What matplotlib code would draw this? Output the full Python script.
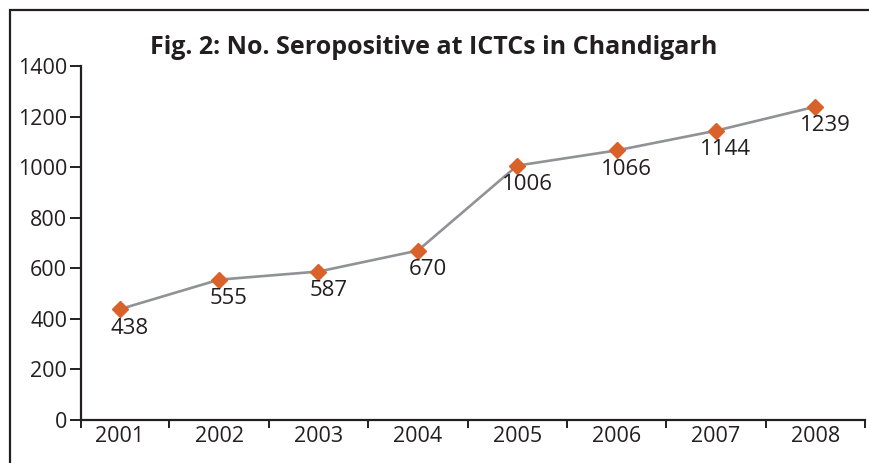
import matplotlib.pyplot as plt
from matplotlib.patches import Rectangle

years = ['2001', '2002', '2003', '2004', '2005', '2006', '2007', '2008']
seropositive = [438, 555, 587, 670, 1006, 1066, 1144, 1239]
y_ticks = [0, 200, 400, 600, 800, 1000, 1200, 1400]

plt.rcParams['font.family'] = ['Open Sans', 'DejaVu Sans']
ink = '#231f20'

fig = plt.figure(figsize=(8.69, 4.63), dpi=100)
ax = fig.add_axes([0.0932, 0.0929, 0.9022, 0.7646])

# frame around the whole chart (right/bottom edges fall outside the image)
fig.patches.append(Rectangle((9.5 / 869, -0.1), 1.2, 1.1 - 10.5 / 463,
                             transform=fig.transFigure, fill=False,
                             edgecolor=ink, linewidth=1.6))

x = list(range(len(years)))
ax.plot(x, seropositive, color='#919296', linewidth=1.9, zorder=2)
ax.plot(x, seropositive, linestyle='none', marker='D', markersize=8.5,
        color='#d9622b', zorder=3)

# value labels sit just below and a little right of each point
for xi, v in zip(x, seropositive):
    ax.annotate(str(v), (xi, v), xytext=(7, -6), textcoords='offset points',
                ha='center', va='top', fontsize=16, color=ink)

left = -0.39
ax.set_xlim(left, 7.5)
ax.set_ylim(0, 1400)

ax.set_xticks([left] + [i + 0.5 for i in x])
ax.set_xticklabels([])
ax.set_xticks(x, minor=True)
ax.set_xticklabels(years, minor=True, fontsize=15.5, color=ink)
ax.tick_params(axis='x', which='major', direction='out', length=6,
               width=1.4, color=ink)
ax.tick_params(axis='x', which='minor', length=0, pad=4)

ax.set_yticks(y_ticks)
ax.set_yticklabels([str(t) for t in y_ticks], fontsize=15.5, color=ink)
ax.tick_params(axis='y', direction='out', length=8, width=1.4, color=ink, pad=2)

for side in ['top', 'right']:
    ax.spines[side].set_visible(False)
for side in ['left', 'bottom']:
    ax.spines[side].set_color(ink)
    ax.spines[side].set_linewidth(1.6)

fig.text(0.4995, 0.897, 'Fig. 2: No. Seropositive at ICTCs in Chandigarh',
         ha='center', va='center', fontsize=18, fontweight='bold', color=ink)

fig.savefig('out.png', dpi=100)
